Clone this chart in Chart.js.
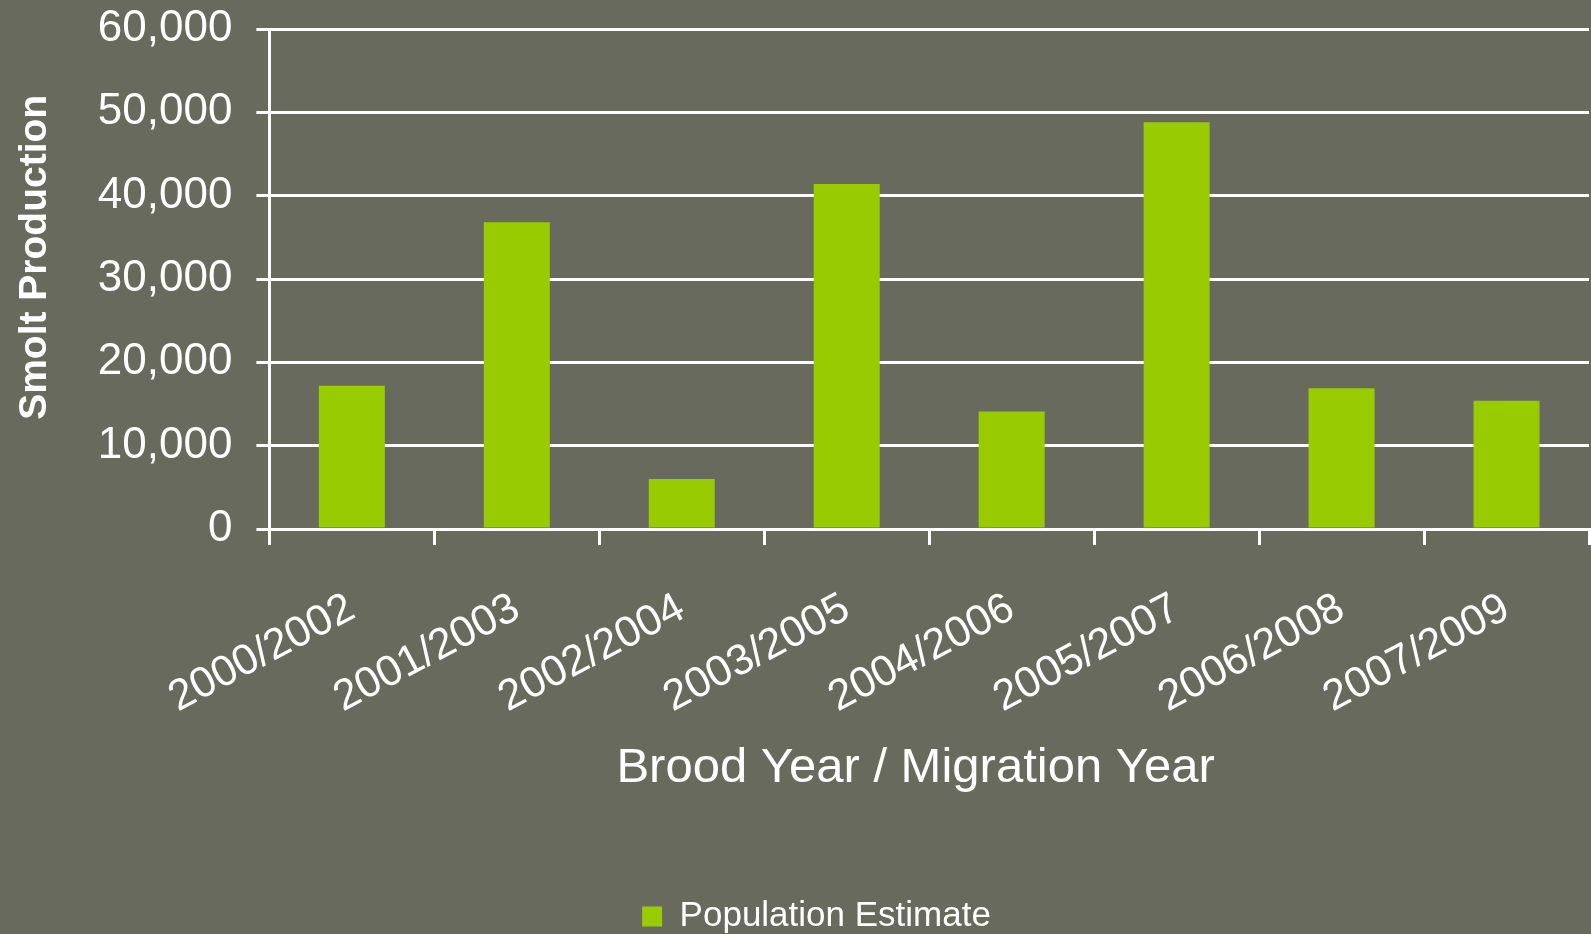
<!DOCTYPE html>
<html>
<head>
<meta charset="utf-8">
<script src="https://cdn.jsdelivr.net/npm/chart.js@4"></script>
<style>
  html, body { margin: 0; padding: 0; background: #686a5e; }
  #wrap { width: 1591px; height: 934px; position: relative; }
</style>
</head>
<body>
<div id="wrap"><canvas id="myChart"></canvas></div>
<script>
// values
var broodYears = ["2000/2002", "2001/2003", "2002/2004", "2003/2005", "2004/2006", "2005/2007", "2006/2008", "2007/2009"];
var populationEstimate = [17200, 36800, 6000, 41400, 14100, 48800, 16900, 15400];
var yTicks = [0, 10000, 20000, 30000, 40000, 50000, 60000];

var font = "'Liberation Sans', Arial, sans-serif";

// the legend reserves a few px under itself; trim that and nudge it right
var legendTweak = {
  id: "legendTweak",
  beforeLayout: function (chart) {
    var lg = chart.legend;
    if (lg && !lg._trimmed) {
      lg._trimmed = true;
      var origFit = lg.fit;
      lg.fit = function () {
        origFit.apply(this, arguments);
        this.height -= 10;
      };
    }
  },
  afterLayout: function (chart) {
    if (chart.legend) {
      chart.legend.left += 16;
      chart.legend.right += 16;
    }
  }
};

var ctx = document.getElementById("myChart").getContext("2d");
var chart = new Chart(ctx, {
  type: "bar",
  plugins: [legendTweak],
  data: {
    labels: broodYears,
    datasets: [
      {
        label: "Population Estimate",
        backgroundColor: "#99cc00",
        borderWidth: 0,
        data: populationEstimate,
        barPercentage: 0.4,
        categoryPercentage: 1
      }
    ]
  },
  options: {
    responsive: true,
    maintainAspectRatio: false,
    animation: false,
    layout: { padding: { top: 0, left: 12, right: 2, bottom: 0 } },
    plugins: {
      tooltip: { enabled: false },
      legend: {
        position: "bottom",
        labels: {
          color: "#ffffff",
          font: { family: font, size: 35 },
          boxWidth: 20,
          boxHeight: 20,
          padding: 0
        }
      }
    },
    scales: {
      x: {
        afterFit: function (scale) { scale.height = 370; },
        grid: {
          drawOnChartArea: false,
          color: "#ffffff",
          lineWidth: 3,
          tickLength: 16,
          tickWidth: 3
        },
        border: { color: "#ffffff", width: 3 },
        ticks: {
          color: "#ffffff",
          font: { family: font, size: 43 },
          minRotation: 28,
          maxRotation: 28,
          padding: 38
        },
        title: {
          display: true,
          // trailing spaces nudge the title a little left of the axis centre
          text: "Brood Year / Migration Year\u00a0\u00a0",
          color: "#ffffff",
          font: { family: font, size: 49 },
          padding: { top: 14, bottom: 101 }
        }
      },
      y: {
        min: 0,
        max: yTicks[yTicks.length - 1],
        afterBuildTicks: function (axis) {
          axis.ticks = yTicks.map(function (v) { return { value: v }; });
        },
        afterFit: function (scale) { scale.paddingTop = 29; scale.paddingBottom = 0; },
        grid: {
          color: "#ffffff",
          lineWidth: 3,
          tickLength: 13,
          tickWidth: 3
        },
        border: { color: "#ffffff", width: 3 },
        ticks: {
          color: "#ffffff",
          font: { family: font, size: 44 },
          padding: 24,
          callback: function (v) { return v.toLocaleString("en-US"); }
        },
        title: {
          display: true,
          // leading spaces lift the rotated title a bit above centre
          text: "\u00a0\u00a0\u00a0\u00a0Smolt Production",
          color: "#ffffff",
          font: { family: font, size: 39, weight: "bold" },
          padding: { top: 0, bottom: 15 }
        }
      }
    }
  }
});
</script>
</body>
</html>
